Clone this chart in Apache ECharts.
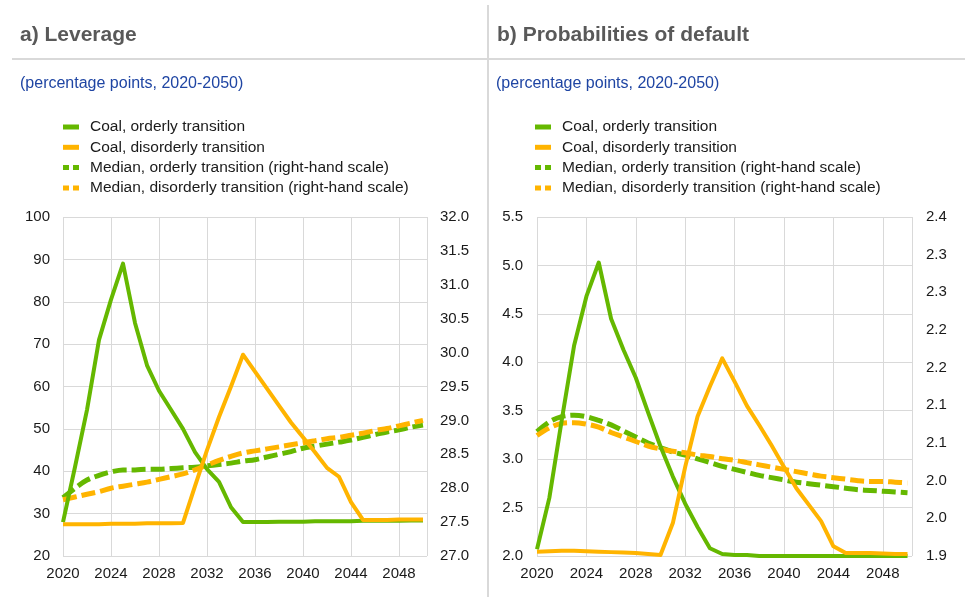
<!DOCTYPE html>
<html>
<head>
<meta charset="utf-8">
<script src="https://cdn.jsdelivr.net/npm/echarts@6/dist/echarts.min.js"></script>
<style>
  html, body { margin: 0; padding: 0; background: #fff; }
  #chart { width: 965px; height: 607px; }
</style>
</head>
<body>
<div id="chart"></div>
<script>
// Years on the horizontal axis
const years = [2020, 2021, 2022, 2023, 2024, 2025, 2026, 2027, 2028, 2029,
               2030, 2031, 2032, 2033, 2034, 2035, 2036, 2037, 2038, 2039,
               2040, 2041, 2042, 2043, 2044, 2045, 2046, 2047, 2048, 2049, 2050];

// a) Leverage
const coalOrderlyLev = [28, 41, 54.5, 71, 80.5, 89, 75, 65, 59, 54.5,
                        50, 44.5, 40.5, 37.5, 31.5, 28, 28, 28, 28.1, 28.1,
                        28.1, 28.2, 28.2, 28.2, 28.2, 28.3, 28.3, 28.3, 28.3, 28.4, 28.4];
const coalDisorderlyLev = [27.5, 27.5, 27.5, 27.5, 27.6, 27.6, 27.6, 27.7, 27.7, 27.7,
                           27.8, 36.5, 45, 52.8, 60, 67.5, 63.5, 59.5, 55.5, 51.5,
                           48, 44.5, 40.8, 38.7, 32.7, 28.5, 28.5, 28.5, 28.6, 28.6, 28.6];
const medianOrderlyLev = [27.86, 28.0, 28.12, 28.19, 28.24, 28.27, 28.27, 28.28, 28.28, 28.29,
                          28.3, 28.31, 28.33, 28.35, 28.37, 28.4, 28.42, 28.46, 28.5, 28.54,
                          28.59, 28.62, 28.65, 28.68, 28.71, 28.75, 28.79, 28.83, 28.86, 28.9, 28.93];
const medianDisorderlyLev = [27.83, 27.87, 27.91, 27.95, 28.0, 28.03, 28.06, 28.09, 28.13, 28.17,
                             28.21, 28.27, 28.34, 28.41, 28.47, 28.52, 28.55, 28.58, 28.61, 28.64,
                             28.67, 28.7, 28.73, 28.75, 28.78, 28.81, 28.85, 28.88, 28.92, 28.96, 29.0];

// b) Probabilities of default
const coalOrderlyPd = [2.07, 2.6, 3.4, 4.17, 4.68, 5.03, 4.45, 4.13, 3.84, 3.48,
                       3.13, 2.82, 2.54, 2.3, 2.08, 2.02, 2.01, 2.01, 2.0, 2.0,
                       2.0, 2.0, 2.0, 2.0, 2.0, 2.0, 2.0, 2.0, 2.0, 2.0, 2.0];
const coalDisorderlyPd = [2.045, 2.05, 2.055, 2.055, 2.05, 2.045, 2.04, 2.035, 2.03, 2.02,
                          2.01, 2.34, 2.92, 3.44, 3.75, 4.04, 3.8, 3.55, 3.35, 3.14,
                          2.92, 2.7, 2.53, 2.36, 2.1, 2.03, 2.03, 2.03, 2.025, 2.02, 2.02];
const medianOrderlyPd = [2.065, 2.078, 2.085, 2.087, 2.085, 2.08, 2.074, 2.066, 2.058, 2.05,
                         2.044, 2.038, 2.034, 2.029, 2.024, 2.019, 2.015, 2.011, 2.007, 2.004,
                         2.001, 1.998, 1.996, 1.994, 1.992, 1.99, 1.988, 1.987, 1.986, 1.985, 1.984];
const medianDisorderlyPd = [2.06, 2.07, 2.076, 2.077, 2.075, 2.071, 2.064, 2.058, 2.052, 2.046,
                            2.042, 2.039, 2.037, 2.034, 2.032, 2.029, 2.027, 2.024, 2.021, 2.018,
                            2.015, 2.012, 2.009, 2.006, 2.004, 2.002, 2.0, 1.999, 1.999, 1.998, 1.997];

// Tick labels
const levLeftTicks = [20, 30, 40, 50, 60, 70, 80, 90, 100];
const levRightTicks = ['27.0', '27.5', '28.0', '28.5', '29.0', '29.5', '30.0', '30.5', '31.0', '31.5', '32.0'];
const pdLeftTicks = ['2.0', '2.5', '3.0', '3.5', '4.0', '4.5', '5.0', '5.5'];
const pdRightTicks = ['1.9', '2.0', '2.0', '2.1', '2.1', '2.2', '2.2', '2.3', '2.3', '2.4'];

const names = [
  'Coal, orderly transition',
  'Coal, disorderly transition',
  'Median, orderly transition (right-hand scale)',
  'Median, disorderly transition (right-hand scale)'
];

const GREEN = '#65b800';
const ORANGE = '#ffb400';
const GRID = '#d9d9d9';
const FONT = '"Liberation Sans", Arial, sans-serif';

const pairs = (vals) => years.map((y, i) => [y, vals[i]]);

const chart = echarts.init(document.getElementById('chart'), null, { renderer: 'canvas' });

function xAxisFor(gridIndex, max) {
  return {
    type: 'value', gridIndex: gridIndex, min: 2020, max: max, interval: 4,
    axisLine: { show: false }, axisTick: { show: false },
    splitLine: { show: true, lineStyle: { color: GRID, width: 1 } },
    axisLabel: {
      color: '#1a1a1a', fontSize: 15, fontFamily: FONT, margin: 10,
      formatter: (v) => (Number.isInteger(v) && v % 4 === 0) ? String(v) : '',
      showMaxLabel: false
    }
  };
}

function yAxisFor(gridIndex, min, max, interval, ticks, margin, split) {
  return {
    type: 'value', gridIndex: gridIndex, min: min, max: max, interval: interval,
    axisLine: { show: false }, axisTick: { show: false },
    splitLine: { show: split, lineStyle: { color: GRID, width: 1 } },
    axisLabel: {
      color: '#1a1a1a', fontSize: 15, fontFamily: FONT, margin: margin,
      formatter: (v) => {
        const idx = Math.round((v - min) / interval);
        return ticks[idx] !== undefined ? String(ticks[idx]) : '';
      }
    }
  };
}

function lineSeries(name, data, color, dashed, xi, yi) {
  return {
    name: name, type: 'line', data: pairs(data),
    xAxisIndex: xi, yAxisIndex: yi,
    symbol: 'none', smooth: dashed ? 0.35 : false,
    lineStyle: dashed
      ? { color: color, width: 5, type: [14, 5], cap: 'butt' }
      : { color: color, width: 4, join: 'round' },
    itemStyle: { color: color },
    z: dashed ? 2 : 3,
    animation: false
  };
}

const solidIcon = 'path://M0,0h16v5h-16z';
const dashIcon = 'path://M0,0h6v5h-6z M10,0h6v5h-6z';

function legendAt(left) {
  return {
    orient: 'vertical', left: left, top: 114,
    itemWidth: 16, itemHeight: 5, itemGap: 4.3,
    selectedMode: false,
    textStyle: { color: '#1a1a1a', fontSize: 15.5, fontFamily: FONT, lineHeight: 16, padding: [0, 0, 0, 6] },
    data: [
      { name: names[0], icon: solidIcon, itemStyle: { color: GREEN } },
      { name: names[1], icon: solidIcon, itemStyle: { color: ORANGE } },
      { name: names[2], icon: dashIcon, itemStyle: { color: GREEN } },
      { name: names[3], icon: dashIcon, itemStyle: { color: ORANGE } }
    ]
  };
}

const option = {
  backgroundColor: '#ffffff',
  animation: false,
  textStyle: { fontFamily: FONT },
  grid: [
    { left: 63, top: 217, width: 364, height: 339, outerBoundsMode: 'none' },
    { left: 537, top: 217, width: 375, height: 339, outerBoundsMode: 'none' }
  ],
  xAxis: [
    xAxisFor(0, 2020 + 364 / 12),
    xAxisFor(1, 2020 + 375 / 12.35)
  ],
  yAxis: [
    yAxisFor(0, 20, 100, 10, levLeftTicks, 13, true),
    Object.assign(yAxisFor(0, 27, 32, 0.5, levRightTicks, 13, false), { position: 'right' }),
    yAxisFor(1, 2.0, 5.5, 0.5, pdLeftTicks, 14, true),
    Object.assign(yAxisFor(1, 1.9, 2.35, 0.05, pdRightTicks, 14, false), { position: 'right' })
  ],
  legend: [legendAt(58), legendAt(530)],
  graphic: [
    { type: 'text', left: 20, top: 25, style: { text: 'a) Leverage', fill: '#595959', font: 'bold 21px ' + FONT } },
    { type: 'text', left: 497, top: 25, style: { text: 'b) Probabilities of default', fill: '#595959', font: 'bold 21px ' + FONT } },
    { type: 'line', shape: { x1: 12, y1: 59, x2: 965, y2: 59 }, style: { stroke: GRID, lineWidth: 2 } },
    { type: 'line', shape: { x1: 488, y1: 5, x2: 488, y2: 597 }, style: { stroke: GRID, lineWidth: 2 } },
    { type: 'text', left: 20, top: 76, style: { text: '(percentage points, 2020-2050)', fill: '#1f45a3', font: '16px ' + FONT } },
    { type: 'text', left: 496, top: 76, style: { text: '(percentage points, 2020-2050)', fill: '#1f45a3', font: '16px ' + FONT } }
  ],
  series: [
    lineSeries(names[2], medianOrderlyLev, GREEN, true, 0, 1),
    lineSeries(names[3], medianDisorderlyLev, ORANGE, true, 0, 1),
    lineSeries(names[0], coalOrderlyLev, GREEN, false, 0, 0),
    lineSeries(names[1], coalDisorderlyLev, ORANGE, false, 0, 0),
    lineSeries(names[2], medianOrderlyPd, GREEN, true, 1, 3),
    lineSeries(names[3], medianDisorderlyPd, ORANGE, true, 1, 3),
    lineSeries(names[0], coalOrderlyPd, GREEN, false, 1, 2),
    lineSeries(names[1], coalDisorderlyPd, ORANGE, false, 1, 2)
  ]
};

chart.setOption(option);
</script>
</body>
</html>
